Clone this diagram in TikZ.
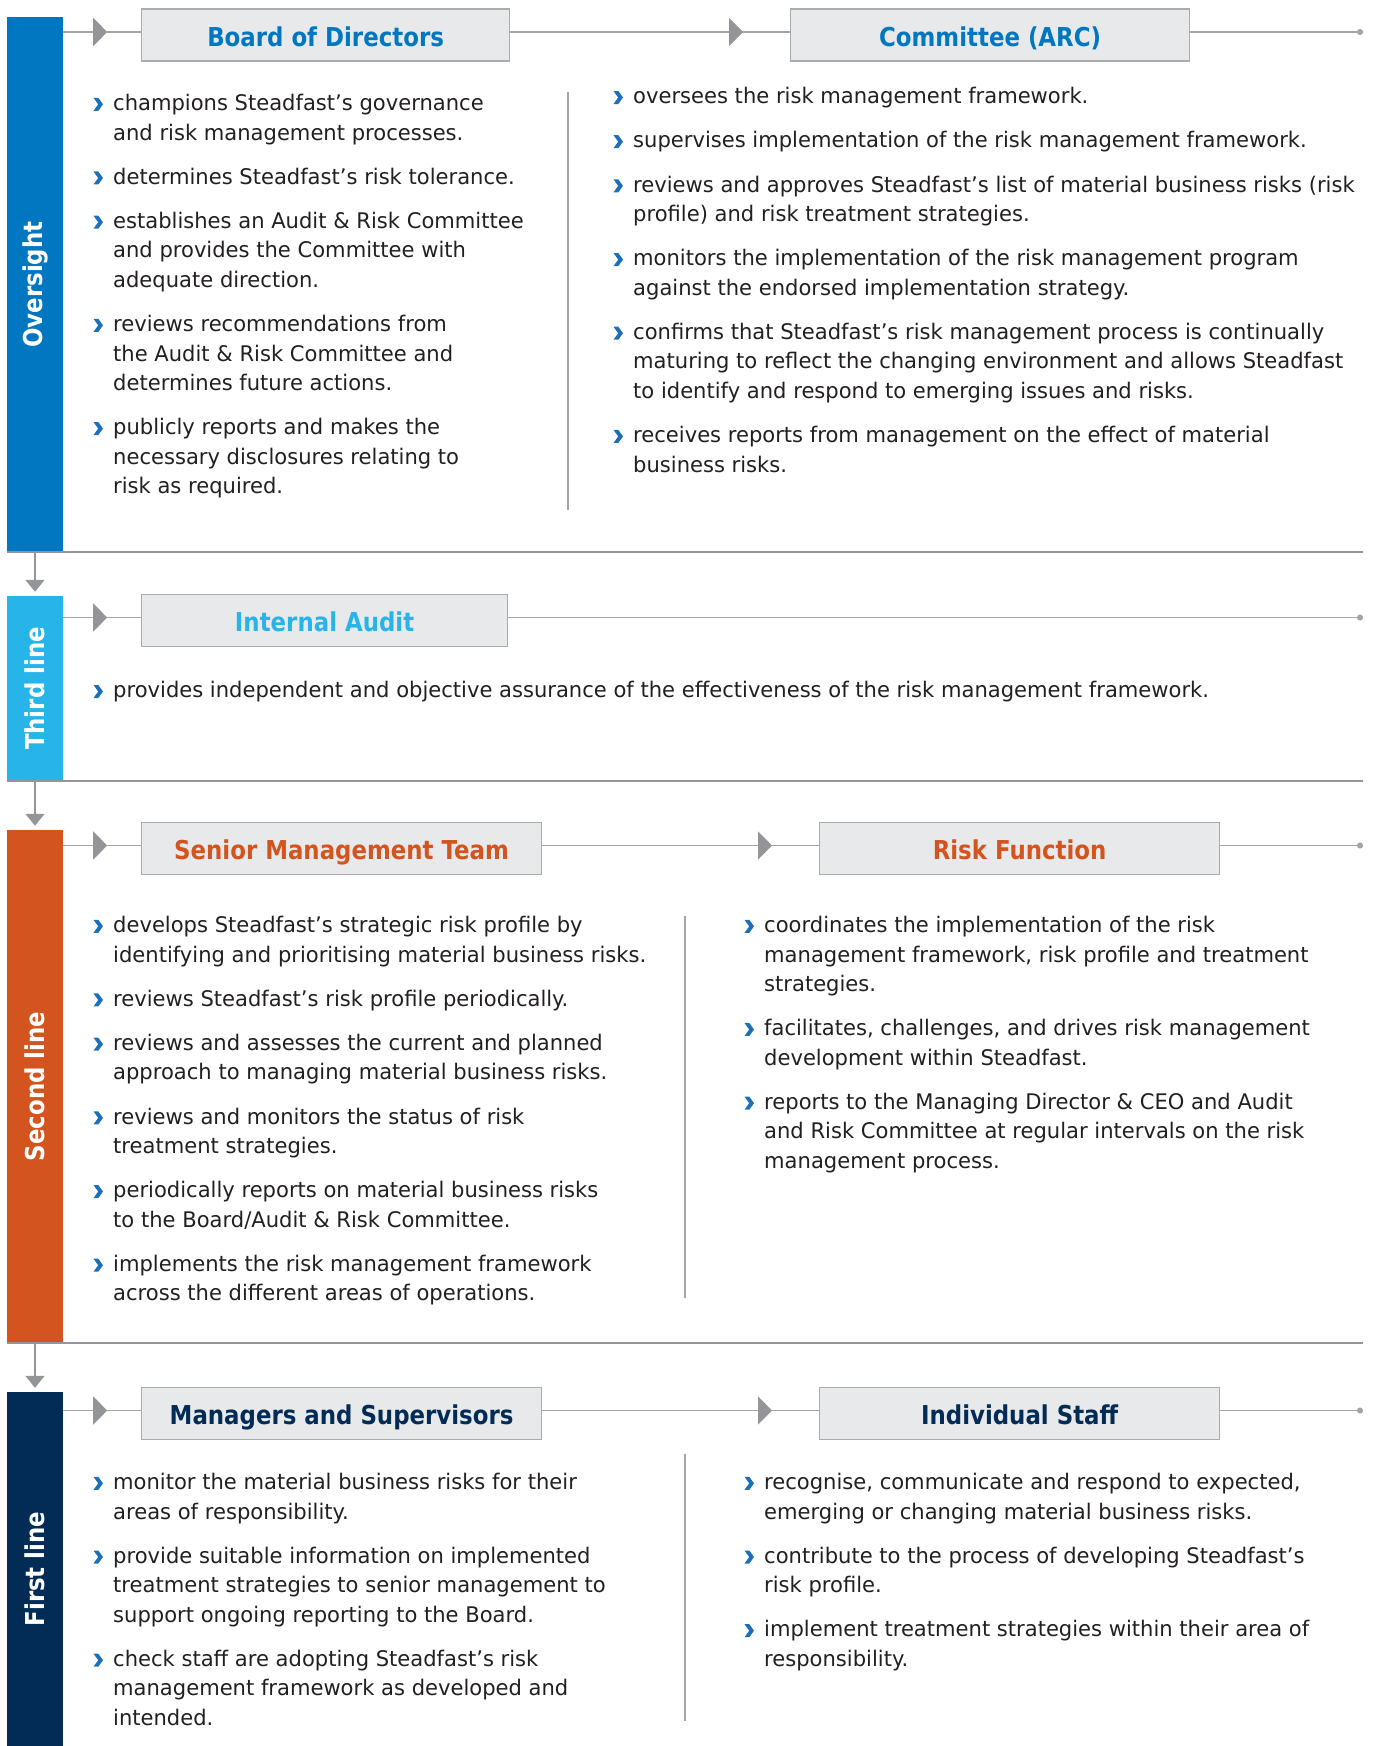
\documentclass[tikz,border=0pt]{standalone}
\usepackage{fontspec}
\newfontfamily\bodyfont{DejaVu Sans}[FakeStretch=0.98]
\newfontfamily\headfont{DejaVu Sans}[FakeStretch=0.88]
\usetikzlibrary{positioning,arrows.meta,decorations.markings}
\definecolor{ovblue}{HTML}{0077C0}
\definecolor{tlblue}{HTML}{27B4E9}
\definecolor{slorange}{HTML}{D3541E}
\definecolor{flnavy}{HTML}{022C55}
\definecolor{boxfill}{HTML}{E8E9EA}
\definecolor{boxline}{HTML}{A9ABAE}
\definecolor{linegray}{HTML}{A3A5A8}
\definecolor{tipgray}{HTML}{939598}
\definecolor{bulblue}{HTML}{1B70B8}
\definecolor{txt}{HTML}{231F20}
\begin{document}
\begin{tikzpicture}[x=1pt, y=-1pt,
    bar/.style={rotate=90, inner sep=0pt, minimum height=56pt, text=white, font=\headfont\bfseries\fontsize{26}{30}\selectfont},
    head/.style={anchor=west, draw=boxline, line width=1.2pt, fill=boxfill, minimum height=52pt, inner sep=0pt, text height=24pt, text depth=1.6pt, font=\headfont\bfseries\fontsize{26}{30}\selectfont},
    item/.style={anchor=north west, align=left, inner sep=0pt, text=txt, font=\bodyfont\fontsize{21.5}{29.5}\selectfont, execute at end node={\rule[-8.85pt]{0pt}{8.85pt}}},
    under/.style={below=18.6pt of #1.south west, anchor=north west},
    conn/.style={draw=linegray, line width=1.5pt, transform canvas={yshift=3pt}},
    sep/.style={draw=tipgray, line width=1.5pt},
    divider/.style={draw=linegray, line width=1.2pt},
    tipat/.style={postaction={decorate}, decoration={markings, mark=at position #1 with {\arrow[tipgray]{Triangle[length=14pt,width=28pt]}}}},
    down/.style={draw=tipgray, line width=1.5pt, -{Triangle[length=12pt,width=19pt]}, shorten >=4pt},
    dot/.style={-{Circle[length=6pt]}}]
  \def\bul#1{\fill[bulblue] ([shift={(-19.5,3.8)}]#1.north west) -- ++(4.8,0) -- ++(4.7,6.5) -- ++(-4.7,6.5) -- ++(-4.8,0) -- ++(4.7,-6.5) -- cycle;}
  \useasboundingbox (0,0) rectangle (1379,1746);
  \coordinate (R) at (1363,0);

  \node[bar, fill=ovblue, minimum width=535pt] (oversight) at (35,284.5) {Oversight};
  \node[bar, fill=tlblue, minimum width=185pt] (thirdline) at (35,688.5) {Third line};
  \node[bar, fill=slorange, minimum width=513pt] (secondline) at (35,1086.5) {Second line};
  \node[bar, fill=flnavy, minimum width=354pt] (firstline) at (35,1569) {First line};

  \draw[sep] (oversight.north west) -- (oversight.north west -| R);
  \draw[sep] (thirdline.north west) -- (thirdline.north west -| R);
  \draw[sep] (secondline.north west) -- (secondline.north west -| R);
  \draw[down] (oversight.west) -- (thirdline.east);
  \draw[down] (thirdline.west) -- (secondline.east);
  \draw[down] (secondline.west) -- (firstline.east);

  \node[head, text=ovblue, minimum width=368pt] (board) at (141,35) {Board of Directors};
  \node[head, text=ovblue, minimum width=399pt] (arc) at (790,35) {Committee (ARC)};
  \draw[conn, tipat=44pt] (oversight.south |- board.west) -- (board.west);
  \draw[conn, tipat=-47pt] (board.east) -- (arc.west);
  \draw[conn, dot] (arc.east) -- (arc.east -| R);

  \node[head, text=tlblue, minimum width=366pt] (audit) at (141,620.5) {Internal Audit};
  \draw[conn, tipat=44pt] (thirdline.south |- audit.west) -- (audit.west);
  \draw[conn, dot] (audit.east) -- (audit.east -| R);

  \node[head, text=slorange, minimum width=400pt] (smt) at (141,848.5) {Senior Management Team};
  \node[head, text=slorange, minimum width=400pt] (riskfn) at (819,848.5) {Risk Function};
  \draw[conn, tipat=44pt] (secondline.south |- smt.west) -- (smt.west);
  \draw[conn, tipat=-47pt] (smt.east) -- (riskfn.west);
  \draw[conn, dot] (riskfn.east) -- (riskfn.east -| R);

  \node[head, text=flnavy, minimum width=400pt] (mgrs) at (141,1413.5) {Managers and Supervisors};
  \node[head, text=flnavy, minimum width=400pt] (staff) at (819,1413.5) {Individual Staff};
  \draw[conn, tipat=44pt] (firstline.south |- mgrs.west) -- (mgrs.west);
  \draw[conn, tipat=-47pt] (mgrs.east) -- (staff.west);
  \draw[conn, dot] (staff.east) -- (staff.east -| R);

  \draw[divider] (568,92) -- (568,510);
  \draw[divider] (685,916) -- (685,1298);
  \draw[divider] (685,1454) -- (685,1721);

  \node[item] (ovl1) at (113,94) {champions Steadfast’s governance\\and risk management processes.};
  \node[item, under=ovl1] (ovl2) {determines Steadfast’s risk tolerance.};
  \node[item, under=ovl2] (ovl3) {establishes an Audit \& Risk Committee\\and provides the Committee with\\adequate direction.};
  \node[item, under=ovl3] (ovl4) {reviews recommendations from\\the Audit \& Risk Committee and\\determines future actions.};
  \node[item, under=ovl4] (ovl5) {publicly reports and makes the\\necessary disclosures relating to\\risk as required.};

  \node[item] (ovr1) at (633,87.2) {oversees the risk management framework.};
  \node[item, under=ovr1] (ovr2) {supervises implementation of the risk management framework.};
  \node[item, under=ovr2] (ovr3) {reviews and approves Steadfast’s list of material business risks (risk\\profile) and risk treatment strategies.};
  \node[item, under=ovr3] (ovr4) {monitors the implementation of the risk management program\\against the endorsed implementation strategy.};
  \node[item, under=ovr4] (ovr5) {confirms that Steadfast’s risk management process is continually\\maturing to reflect the changing environment and allows Steadfast\\to identify and respond to emerging issues and risks.};
  \node[item, under=ovr5] (ovr6) {receives reports from management on the effect of material\\business risks.};

  \node[item] (tl1) at (113,681.2) {provides independent and objective assurance of the effectiveness of the risk management framework.};

  \node[item] (sll1) at (113,916) {develops Steadfast’s strategic risk profile by\\identifying and prioritising material business risks.};
  \node[item, under=sll1] (sll2) {reviews Steadfast’s risk profile periodically.};
  \node[item, under=sll2] (sll3) {reviews and assesses the current and planned\\approach to managing material business risks.};
  \node[item, under=sll3] (sll4) {reviews and monitors the status of risk\\treatment strategies.};
  \node[item, under=sll4] (sll5) {periodically reports on material business risks\\to the Board/Audit \& Risk Committee.};
  \node[item, under=sll5] (sll6) {implements the risk management framework\\across the different areas of operations.};

  \node[item] (slr1) at (764,916) {coordinates the implementation of the risk\\management framework, risk profile and treatment\\strategies.};
  \node[item, under=slr1] (slr2) {facilitates, challenges, and drives risk management\\development within Steadfast.};
  \node[item, under=slr2] (slr3) {reports to the Managing Director \& CEO and Audit\\and Risk Committee at regular intervals on the risk\\management process.};

  \node[item] (fll1) at (113,1473) {monitor the material business risks for their\\areas of responsibility.};
  \node[item, under=fll1] (fll2) {provide suitable information on implemented\\treatment strategies to senior management to\\support ongoing reporting to the Board.};
  \node[item, under=fll2] (fll3) {check staff are adopting Steadfast’s risk\\management framework as developed and\\intended.};

  \node[item] (flr1) at (764,1473) {recognise, communicate and respond to expected,\\emerging or changing material business risks.};
  \node[item, under=flr1] (flr2) {contribute to the process of developing Steadfast’s\\risk profile.};
  \node[item, under=flr2] (flr3) {implement treatment strategies within their area of\\responsibility.};

  \foreach \n in {ovl1,ovl2,ovl3,ovl4,ovl5,ovr1,ovr2,ovr3,ovr4,ovr5,ovr6,tl1,sll1,sll2,sll3,sll4,sll5,sll6,slr1,slr2,slr3,fll1,fll2,fll3,flr1,flr2,flr3}
    {\bul{\n}}
\end{tikzpicture}
\end{document}
